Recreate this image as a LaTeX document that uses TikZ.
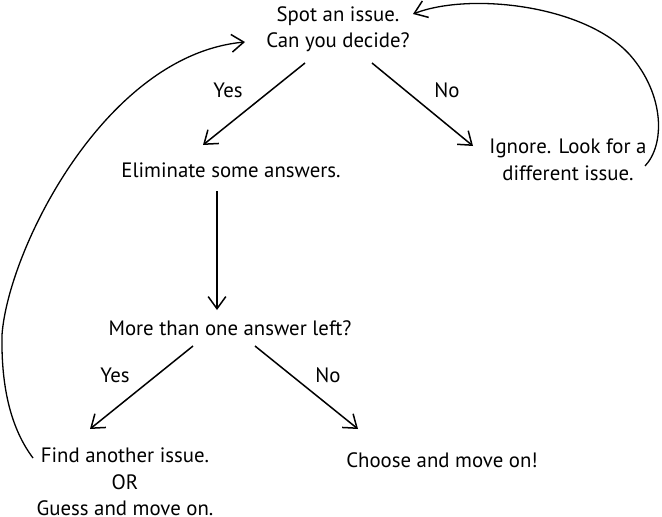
\documentclass[tikz,border=0pt]{standalone}
\usepackage{fontspec}
\setmainfont{PT Sans}
\usetikzlibrary{arrows.meta}
\begin{document}
\begin{tikzpicture}[x=1pt,y=-1pt,
  txt/.style={align=center,inner sep=0pt,font=\fontsize{20.8}{26.5}\selectfont},
  arr/.style={line width=1.5pt,-{Straight Barb[angle=72:15pt,line width=1.5pt]}},
  crv/.style={line width=1.3pt}]
\useasboundingbox (0,0) rectangle (662,517);
\node[txt] (top) at (338,29) {Spot an issue.\\Can you decide?};
\node[txt] (elim) at (231,170) {Eliminate some answers.};
\node[txt] (ign) at (568,160) {Ignore. Look for a\\different issue.};
\node[txt] (more) at (230,328) {More than one answer left?};
\node[txt] (find) at (125,482) {Find another issue.\\OR\\Guess and move on.};
\node[txt] (choose) at (442,460) {Choose and move on!};
\node[txt] (y1) at (228,90) {Yes};
\node[txt] (n1) at (447,90) {No};
\node[txt] (y2) at (115,375) {Yes};
\node[txt] (n2) at (328,375) {No};
\coordinate (a1s) at (305,63); \coordinate (a1e) at (203,145);
\coordinate (a2s) at (372,63); \coordinate (a2e) at (473,146);
\coordinate (a3s) at (217,191); \coordinate (a3e) at (217,310);
\coordinate (a4s) at (193,346); \coordinate (a4e) at (90,429);
\coordinate (a5s) at (255,346); \coordinate (a5e) at (358,429);
\coordinate (l0) at (33,458); \coordinate (l1) at (2,335); \coordinate (l2) at (245,42);
\coordinate (r0) at (645,166); \coordinate (r1) at (630,55); \coordinate (r2) at (413,14);
\draw[arr] (a1s) -- (a1e);
\draw[arr] (a2s) -- (a2e);
\draw[arr] (a3s) -- (a3e);
\draw[arr] (a4s) -- (a4e);
\draw[arr] (a5s) -- (a5e);
\draw[crv,-{Straight Barb[angle=72:15pt,line width=1.5pt]}] (l0) .. controls (12,430) and (1,390) .. (l1)
  .. controls (8,250) and (105,55) .. (l2);
\draw[crv,-{Straight Barb[angle=72:15pt,line width=1.5pt]}] (r0) .. controls (665,145) and (665,95) .. (r1)
  .. controls (585,5) and (470,-8) .. (r2);
\end{tikzpicture}
\end{document}
